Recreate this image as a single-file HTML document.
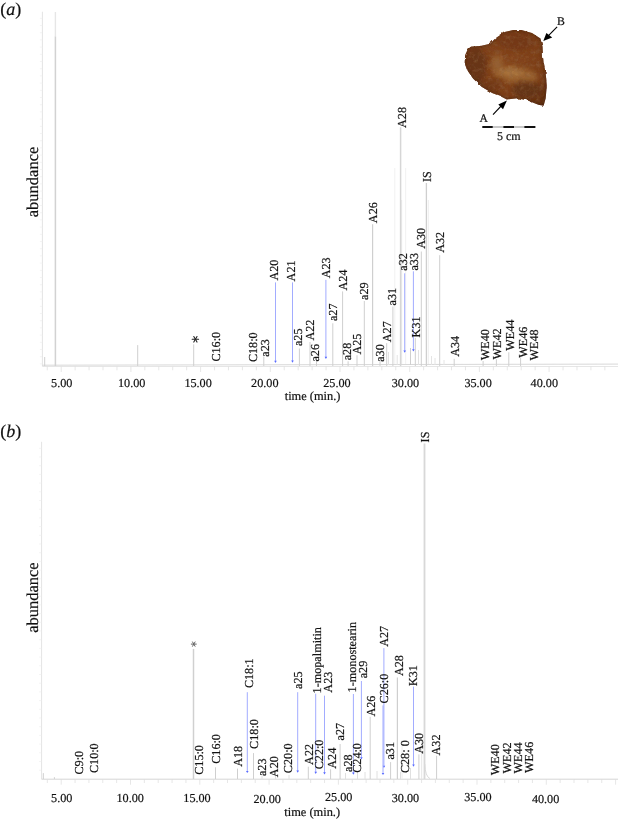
<!DOCTYPE html>
<html><head><meta charset="utf-8"><style>
html,body{margin:0;padding:0;background:#fff;}
svg{display:block;will-change:transform;}
text{font-family:"Liberation Serif",serif;fill:#111;stroke:#111;stroke-width:0.2px;text-rendering:geometricPrecision;}
</style></head><body>
<svg width="618" height="820" viewBox="0 0 618 820">
<line x1="42.4" y1="11.7" x2="42.4" y2="366.5" stroke="#e4e4e4" stroke-width="1"/><line x1="42.4" y1="366.5" x2="618" y2="366.5" stroke="#e6e6e6" stroke-width="1"/><line x1="42.4" y1="365.2" x2="618" y2="364.1" stroke="#d4d4d4" stroke-width="0.9"/><line x1="47.26" y1="366.5" x2="47.26" y2="370.3" stroke="#dcdcdc" stroke-width="0.7"/><line x1="61.20" y1="366.5" x2="61.20" y2="372.0" stroke="#dcdcdc" stroke-width="0.7"/><line x1="75.14" y1="366.5" x2="75.14" y2="370.3" stroke="#dcdcdc" stroke-width="0.7"/><line x1="89.08" y1="366.5" x2="89.08" y2="370.3" stroke="#dcdcdc" stroke-width="0.7"/><line x1="103.02" y1="366.5" x2="103.02" y2="370.3" stroke="#dcdcdc" stroke-width="0.7"/><line x1="116.96" y1="366.5" x2="116.96" y2="370.3" stroke="#dcdcdc" stroke-width="0.7"/><line x1="130.90" y1="366.5" x2="130.90" y2="372.0" stroke="#dcdcdc" stroke-width="0.7"/><line x1="144.84" y1="366.5" x2="144.84" y2="370.3" stroke="#dcdcdc" stroke-width="0.7"/><line x1="158.78" y1="366.5" x2="158.78" y2="370.3" stroke="#dcdcdc" stroke-width="0.7"/><line x1="172.72" y1="366.5" x2="172.72" y2="370.3" stroke="#dcdcdc" stroke-width="0.7"/><line x1="186.66" y1="366.5" x2="186.66" y2="370.3" stroke="#dcdcdc" stroke-width="0.7"/><line x1="200.60" y1="366.5" x2="200.60" y2="372.0" stroke="#dcdcdc" stroke-width="0.7"/><line x1="214.54" y1="366.5" x2="214.54" y2="370.3" stroke="#dcdcdc" stroke-width="0.7"/><line x1="228.48" y1="366.5" x2="228.48" y2="370.3" stroke="#dcdcdc" stroke-width="0.7"/><line x1="242.42" y1="366.5" x2="242.42" y2="370.3" stroke="#dcdcdc" stroke-width="0.7"/><line x1="256.36" y1="366.5" x2="256.36" y2="370.3" stroke="#dcdcdc" stroke-width="0.7"/><line x1="270.30" y1="366.5" x2="270.30" y2="372.0" stroke="#dcdcdc" stroke-width="0.7"/><line x1="284.24" y1="366.5" x2="284.24" y2="370.3" stroke="#dcdcdc" stroke-width="0.7"/><line x1="298.18" y1="366.5" x2="298.18" y2="370.3" stroke="#dcdcdc" stroke-width="0.7"/><line x1="312.12" y1="366.5" x2="312.12" y2="370.3" stroke="#dcdcdc" stroke-width="0.7"/><line x1="326.06" y1="366.5" x2="326.06" y2="370.3" stroke="#dcdcdc" stroke-width="0.7"/><line x1="340.00" y1="366.5" x2="340.00" y2="372.0" stroke="#dcdcdc" stroke-width="0.7"/><line x1="353.94" y1="366.5" x2="353.94" y2="370.3" stroke="#dcdcdc" stroke-width="0.7"/><line x1="367.88" y1="366.5" x2="367.88" y2="370.3" stroke="#dcdcdc" stroke-width="0.7"/><line x1="381.82" y1="366.5" x2="381.82" y2="370.3" stroke="#dcdcdc" stroke-width="0.7"/><line x1="395.76" y1="366.5" x2="395.76" y2="370.3" stroke="#dcdcdc" stroke-width="0.7"/><line x1="409.70" y1="366.5" x2="409.70" y2="372.0" stroke="#dcdcdc" stroke-width="0.7"/><line x1="423.64" y1="366.5" x2="423.64" y2="370.3" stroke="#dcdcdc" stroke-width="0.7"/><line x1="437.58" y1="366.5" x2="437.58" y2="370.3" stroke="#dcdcdc" stroke-width="0.7"/><line x1="451.52" y1="366.5" x2="451.52" y2="370.3" stroke="#dcdcdc" stroke-width="0.7"/><line x1="465.46" y1="366.5" x2="465.46" y2="370.3" stroke="#dcdcdc" stroke-width="0.7"/><line x1="479.40" y1="366.5" x2="479.40" y2="372.0" stroke="#dcdcdc" stroke-width="0.7"/><line x1="493.34" y1="366.5" x2="493.34" y2="370.3" stroke="#dcdcdc" stroke-width="0.7"/><line x1="507.28" y1="366.5" x2="507.28" y2="370.3" stroke="#dcdcdc" stroke-width="0.7"/><line x1="521.22" y1="366.5" x2="521.22" y2="370.3" stroke="#dcdcdc" stroke-width="0.7"/><line x1="535.16" y1="366.5" x2="535.16" y2="370.3" stroke="#dcdcdc" stroke-width="0.7"/><line x1="549.10" y1="366.5" x2="549.10" y2="372.0" stroke="#dcdcdc" stroke-width="0.7"/><line x1="563.04" y1="366.5" x2="563.04" y2="370.3" stroke="#dcdcdc" stroke-width="0.7"/><line x1="576.98" y1="366.5" x2="576.98" y2="370.3" stroke="#dcdcdc" stroke-width="0.7"/><line x1="590.92" y1="366.5" x2="590.92" y2="370.3" stroke="#dcdcdc" stroke-width="0.7"/><line x1="604.86" y1="366.5" x2="604.86" y2="370.3" stroke="#dcdcdc" stroke-width="0.7"/><line x1="39.9" y1="18.3" x2="42.4" y2="18.3" stroke="#ececec" stroke-width="0.6"/><line x1="39.9" y1="25.5" x2="42.4" y2="25.5" stroke="#ececec" stroke-width="0.6"/><line x1="39.9" y1="32.7" x2="42.4" y2="32.7" stroke="#ececec" stroke-width="0.6"/><line x1="39.9" y1="39.900000000000006" x2="42.4" y2="39.900000000000006" stroke="#ececec" stroke-width="0.6"/><line x1="39.9" y1="47.1" x2="42.4" y2="47.1" stroke="#ececec" stroke-width="0.6"/><line x1="39.9" y1="54.3" x2="42.4" y2="54.3" stroke="#ececec" stroke-width="0.6"/><line x1="39.9" y1="61.5" x2="42.4" y2="61.5" stroke="#ececec" stroke-width="0.6"/><line x1="39.9" y1="68.7" x2="42.4" y2="68.7" stroke="#ececec" stroke-width="0.6"/><line x1="39.9" y1="75.9" x2="42.4" y2="75.9" stroke="#ececec" stroke-width="0.6"/><line x1="39.9" y1="83.1" x2="42.4" y2="83.1" stroke="#ececec" stroke-width="0.6"/><line x1="39.9" y1="90.3" x2="42.4" y2="90.3" stroke="#ececec" stroke-width="0.6"/><line x1="39.9" y1="97.5" x2="42.4" y2="97.5" stroke="#ececec" stroke-width="0.6"/><line x1="39.9" y1="104.7" x2="42.4" y2="104.7" stroke="#ececec" stroke-width="0.6"/><line x1="39.9" y1="111.9" x2="42.4" y2="111.9" stroke="#ececec" stroke-width="0.6"/><line x1="39.9" y1="119.1" x2="42.4" y2="119.1" stroke="#ececec" stroke-width="0.6"/><line x1="39.9" y1="126.3" x2="42.4" y2="126.3" stroke="#ececec" stroke-width="0.6"/><line x1="39.9" y1="133.5" x2="42.4" y2="133.5" stroke="#ececec" stroke-width="0.6"/><line x1="39.9" y1="140.70000000000002" x2="42.4" y2="140.70000000000002" stroke="#ececec" stroke-width="0.6"/><line x1="39.9" y1="147.9" x2="42.4" y2="147.9" stroke="#ececec" stroke-width="0.6"/><line x1="39.9" y1="155.10000000000002" x2="42.4" y2="155.10000000000002" stroke="#ececec" stroke-width="0.6"/><line x1="39.9" y1="162.3" x2="42.4" y2="162.3" stroke="#ececec" stroke-width="0.6"/><line x1="39.9" y1="169.50000000000003" x2="42.4" y2="169.50000000000003" stroke="#ececec" stroke-width="0.6"/><line x1="39.9" y1="176.70000000000002" x2="42.4" y2="176.70000000000002" stroke="#ececec" stroke-width="0.6"/><line x1="39.9" y1="183.9" x2="42.4" y2="183.9" stroke="#ececec" stroke-width="0.6"/><line x1="39.9" y1="191.10000000000002" x2="42.4" y2="191.10000000000002" stroke="#ececec" stroke-width="0.6"/><line x1="39.9" y1="198.3" x2="42.4" y2="198.3" stroke="#ececec" stroke-width="0.6"/><line x1="39.9" y1="205.50000000000003" x2="42.4" y2="205.50000000000003" stroke="#ececec" stroke-width="0.6"/><line x1="39.9" y1="212.70000000000002" x2="42.4" y2="212.70000000000002" stroke="#ececec" stroke-width="0.6"/><line x1="39.9" y1="219.9" x2="42.4" y2="219.9" stroke="#ececec" stroke-width="0.6"/><line x1="39.9" y1="227.10000000000002" x2="42.4" y2="227.10000000000002" stroke="#ececec" stroke-width="0.6"/><line x1="39.9" y1="234.3" x2="42.4" y2="234.3" stroke="#ececec" stroke-width="0.6"/><line x1="39.9" y1="241.50000000000003" x2="42.4" y2="241.50000000000003" stroke="#ececec" stroke-width="0.6"/><line x1="39.9" y1="248.70000000000002" x2="42.4" y2="248.70000000000002" stroke="#ececec" stroke-width="0.6"/><line x1="39.9" y1="255.9" x2="42.4" y2="255.9" stroke="#ececec" stroke-width="0.6"/><line x1="39.9" y1="263.1" x2="42.4" y2="263.1" stroke="#ececec" stroke-width="0.6"/><line x1="39.9" y1="270.3" x2="42.4" y2="270.3" stroke="#ececec" stroke-width="0.6"/><line x1="39.9" y1="277.5" x2="42.4" y2="277.5" stroke="#ececec" stroke-width="0.6"/><line x1="39.9" y1="284.70000000000005" x2="42.4" y2="284.70000000000005" stroke="#ececec" stroke-width="0.6"/><line x1="39.9" y1="291.90000000000003" x2="42.4" y2="291.90000000000003" stroke="#ececec" stroke-width="0.6"/><line x1="39.9" y1="299.1" x2="42.4" y2="299.1" stroke="#ececec" stroke-width="0.6"/><line x1="39.9" y1="306.3" x2="42.4" y2="306.3" stroke="#ececec" stroke-width="0.6"/><line x1="39.9" y1="313.5" x2="42.4" y2="313.5" stroke="#ececec" stroke-width="0.6"/><line x1="39.9" y1="320.70000000000005" x2="42.4" y2="320.70000000000005" stroke="#ececec" stroke-width="0.6"/><line x1="39.9" y1="327.90000000000003" x2="42.4" y2="327.90000000000003" stroke="#ececec" stroke-width="0.6"/><line x1="39.9" y1="335.1" x2="42.4" y2="335.1" stroke="#ececec" stroke-width="0.6"/><line x1="39.9" y1="342.3" x2="42.4" y2="342.3" stroke="#ececec" stroke-width="0.6"/><line x1="39.9" y1="349.5" x2="42.4" y2="349.5" stroke="#ececec" stroke-width="0.6"/><line x1="39.9" y1="356.70000000000005" x2="42.4" y2="356.70000000000005" stroke="#ececec" stroke-width="0.6"/><line x1="39.9" y1="363.90000000000003" x2="42.4" y2="363.90000000000003" stroke="#ececec" stroke-width="0.6"/><text x="61.7" y="387" text-anchor="middle" font-size="12.2">5.00</text><text x="131.7" y="387" text-anchor="middle" font-size="12.2">10.00</text><text x="198.1" y="387" text-anchor="middle" font-size="12.2">15.00</text><text x="264.8" y="387" text-anchor="middle" font-size="12.2">20.00</text><text x="336.9" y="387" text-anchor="middle" font-size="12.2">25.00</text><text x="405.4" y="387" text-anchor="middle" font-size="12.2">30.00</text><text x="478.1" y="387" text-anchor="middle" font-size="12.2">35.00</text><text x="544.3" y="387" text-anchor="middle" font-size="12.2">40.00</text><line x1="41.6" y1="441.8" x2="41.6" y2="779.2" stroke="#e4e4e4" stroke-width="1"/><line x1="41.6" y1="779.2" x2="618" y2="779.2" stroke="#d6d6d6" stroke-width="1"/><line x1="47.34" y1="779.2" x2="47.34" y2="783.0" stroke="#dcdcdc" stroke-width="0.7"/><line x1="61.20" y1="779.2" x2="61.20" y2="784.7" stroke="#dcdcdc" stroke-width="0.7"/><line x1="75.06" y1="779.2" x2="75.06" y2="783.0" stroke="#dcdcdc" stroke-width="0.7"/><line x1="88.92" y1="779.2" x2="88.92" y2="783.0" stroke="#dcdcdc" stroke-width="0.7"/><line x1="102.78" y1="779.2" x2="102.78" y2="783.0" stroke="#dcdcdc" stroke-width="0.7"/><line x1="116.64" y1="779.2" x2="116.64" y2="783.0" stroke="#dcdcdc" stroke-width="0.7"/><line x1="130.50" y1="779.2" x2="130.50" y2="784.7" stroke="#dcdcdc" stroke-width="0.7"/><line x1="144.36" y1="779.2" x2="144.36" y2="783.0" stroke="#dcdcdc" stroke-width="0.7"/><line x1="158.22" y1="779.2" x2="158.22" y2="783.0" stroke="#dcdcdc" stroke-width="0.7"/><line x1="172.08" y1="779.2" x2="172.08" y2="783.0" stroke="#dcdcdc" stroke-width="0.7"/><line x1="185.94" y1="779.2" x2="185.94" y2="783.0" stroke="#dcdcdc" stroke-width="0.7"/><line x1="199.80" y1="779.2" x2="199.80" y2="784.7" stroke="#dcdcdc" stroke-width="0.7"/><line x1="213.66" y1="779.2" x2="213.66" y2="783.0" stroke="#dcdcdc" stroke-width="0.7"/><line x1="227.52" y1="779.2" x2="227.52" y2="783.0" stroke="#dcdcdc" stroke-width="0.7"/><line x1="241.38" y1="779.2" x2="241.38" y2="783.0" stroke="#dcdcdc" stroke-width="0.7"/><line x1="255.24" y1="779.2" x2="255.24" y2="783.0" stroke="#dcdcdc" stroke-width="0.7"/><line x1="269.10" y1="779.2" x2="269.10" y2="784.7" stroke="#dcdcdc" stroke-width="0.7"/><line x1="282.96" y1="779.2" x2="282.96" y2="783.0" stroke="#dcdcdc" stroke-width="0.7"/><line x1="296.82" y1="779.2" x2="296.82" y2="783.0" stroke="#dcdcdc" stroke-width="0.7"/><line x1="310.68" y1="779.2" x2="310.68" y2="783.0" stroke="#dcdcdc" stroke-width="0.7"/><line x1="324.54" y1="779.2" x2="324.54" y2="783.0" stroke="#dcdcdc" stroke-width="0.7"/><line x1="338.40" y1="779.2" x2="338.40" y2="784.7" stroke="#dcdcdc" stroke-width="0.7"/><line x1="352.26" y1="779.2" x2="352.26" y2="783.0" stroke="#dcdcdc" stroke-width="0.7"/><line x1="366.12" y1="779.2" x2="366.12" y2="783.0" stroke="#dcdcdc" stroke-width="0.7"/><line x1="379.98" y1="779.2" x2="379.98" y2="783.0" stroke="#dcdcdc" stroke-width="0.7"/><line x1="393.84" y1="779.2" x2="393.84" y2="783.0" stroke="#dcdcdc" stroke-width="0.7"/><line x1="407.70" y1="779.2" x2="407.70" y2="784.7" stroke="#dcdcdc" stroke-width="0.7"/><line x1="421.56" y1="779.2" x2="421.56" y2="783.0" stroke="#dcdcdc" stroke-width="0.7"/><line x1="435.42" y1="779.2" x2="435.42" y2="783.0" stroke="#dcdcdc" stroke-width="0.7"/><line x1="449.28" y1="779.2" x2="449.28" y2="783.0" stroke="#dcdcdc" stroke-width="0.7"/><line x1="463.14" y1="779.2" x2="463.14" y2="783.0" stroke="#dcdcdc" stroke-width="0.7"/><line x1="477.00" y1="779.2" x2="477.00" y2="784.7" stroke="#dcdcdc" stroke-width="0.7"/><line x1="490.86" y1="779.2" x2="490.86" y2="783.0" stroke="#dcdcdc" stroke-width="0.7"/><line x1="504.72" y1="779.2" x2="504.72" y2="783.0" stroke="#dcdcdc" stroke-width="0.7"/><line x1="518.58" y1="779.2" x2="518.58" y2="783.0" stroke="#dcdcdc" stroke-width="0.7"/><line x1="532.44" y1="779.2" x2="532.44" y2="783.0" stroke="#dcdcdc" stroke-width="0.7"/><line x1="546.30" y1="779.2" x2="546.30" y2="784.7" stroke="#dcdcdc" stroke-width="0.7"/><line x1="560.16" y1="779.2" x2="560.16" y2="783.0" stroke="#dcdcdc" stroke-width="0.7"/><line x1="574.02" y1="779.2" x2="574.02" y2="783.0" stroke="#dcdcdc" stroke-width="0.7"/><line x1="587.88" y1="779.2" x2="587.88" y2="783.0" stroke="#dcdcdc" stroke-width="0.7"/><line x1="601.74" y1="779.2" x2="601.74" y2="783.0" stroke="#dcdcdc" stroke-width="0.7"/><line x1="615.60" y1="779.2" x2="615.60" y2="784.7" stroke="#dcdcdc" stroke-width="0.7"/><line x1="39.1" y1="448.3" x2="41.6" y2="448.3" stroke="#ececec" stroke-width="0.6"/><line x1="39.1" y1="457.0" x2="41.6" y2="457.0" stroke="#ececec" stroke-width="0.6"/><line x1="39.1" y1="465.7" x2="41.6" y2="465.7" stroke="#ececec" stroke-width="0.6"/><line x1="39.1" y1="474.40000000000003" x2="41.6" y2="474.40000000000003" stroke="#ececec" stroke-width="0.6"/><line x1="39.1" y1="483.1" x2="41.6" y2="483.1" stroke="#ececec" stroke-width="0.6"/><line x1="39.1" y1="491.8" x2="41.6" y2="491.8" stroke="#ececec" stroke-width="0.6"/><line x1="39.1" y1="500.5" x2="41.6" y2="500.5" stroke="#ececec" stroke-width="0.6"/><line x1="39.1" y1="509.2" x2="41.6" y2="509.2" stroke="#ececec" stroke-width="0.6"/><line x1="39.1" y1="517.9" x2="41.6" y2="517.9" stroke="#ececec" stroke-width="0.6"/><line x1="39.1" y1="526.6" x2="41.6" y2="526.6" stroke="#ececec" stroke-width="0.6"/><line x1="39.1" y1="535.3" x2="41.6" y2="535.3" stroke="#ececec" stroke-width="0.6"/><line x1="39.1" y1="544.0" x2="41.6" y2="544.0" stroke="#ececec" stroke-width="0.6"/><line x1="39.1" y1="552.7" x2="41.6" y2="552.7" stroke="#ececec" stroke-width="0.6"/><line x1="39.1" y1="561.4" x2="41.6" y2="561.4" stroke="#ececec" stroke-width="0.6"/><line x1="39.1" y1="570.1" x2="41.6" y2="570.1" stroke="#ececec" stroke-width="0.6"/><line x1="39.1" y1="578.8" x2="41.6" y2="578.8" stroke="#ececec" stroke-width="0.6"/><line x1="39.1" y1="587.5" x2="41.6" y2="587.5" stroke="#ececec" stroke-width="0.6"/><line x1="39.1" y1="596.2" x2="41.6" y2="596.2" stroke="#ececec" stroke-width="0.6"/><line x1="39.1" y1="604.9" x2="41.6" y2="604.9" stroke="#ececec" stroke-width="0.6"/><line x1="39.1" y1="613.6" x2="41.6" y2="613.6" stroke="#ececec" stroke-width="0.6"/><line x1="39.1" y1="622.3" x2="41.6" y2="622.3" stroke="#ececec" stroke-width="0.6"/><line x1="39.1" y1="631.0" x2="41.6" y2="631.0" stroke="#ececec" stroke-width="0.6"/><line x1="39.1" y1="639.7" x2="41.6" y2="639.7" stroke="#ececec" stroke-width="0.6"/><line x1="39.1" y1="648.4" x2="41.6" y2="648.4" stroke="#ececec" stroke-width="0.6"/><line x1="39.1" y1="657.1" x2="41.6" y2="657.1" stroke="#ececec" stroke-width="0.6"/><line x1="39.1" y1="665.8" x2="41.6" y2="665.8" stroke="#ececec" stroke-width="0.6"/><line x1="39.1" y1="674.5" x2="41.6" y2="674.5" stroke="#ececec" stroke-width="0.6"/><line x1="39.1" y1="683.2" x2="41.6" y2="683.2" stroke="#ececec" stroke-width="0.6"/><line x1="39.1" y1="691.9" x2="41.6" y2="691.9" stroke="#ececec" stroke-width="0.6"/><line x1="39.1" y1="700.6" x2="41.6" y2="700.6" stroke="#ececec" stroke-width="0.6"/><line x1="39.1" y1="709.3" x2="41.6" y2="709.3" stroke="#ececec" stroke-width="0.6"/><line x1="39.1" y1="718.0" x2="41.6" y2="718.0" stroke="#ececec" stroke-width="0.6"/><line x1="39.1" y1="726.7" x2="41.6" y2="726.7" stroke="#ececec" stroke-width="0.6"/><line x1="39.1" y1="735.4" x2="41.6" y2="735.4" stroke="#ececec" stroke-width="0.6"/><line x1="39.1" y1="744.0999999999999" x2="41.6" y2="744.0999999999999" stroke="#ececec" stroke-width="0.6"/><line x1="39.1" y1="752.8" x2="41.6" y2="752.8" stroke="#ececec" stroke-width="0.6"/><line x1="39.1" y1="761.5" x2="41.6" y2="761.5" stroke="#ececec" stroke-width="0.6"/><line x1="39.1" y1="770.2" x2="41.6" y2="770.2" stroke="#ececec" stroke-width="0.6"/><text x="61.7" y="801.7" text-anchor="middle" font-size="12.2">5.00</text><text x="130.2" y="801.7" text-anchor="middle" font-size="12.2">10.00</text><text x="197" y="801.5" text-anchor="middle" font-size="12.2">15.00</text><text x="267.2" y="803.1" text-anchor="middle" font-size="12.2">20.00</text><text x="338.7" y="801.4" text-anchor="middle" font-size="12.2">25.00</text><text x="405.4" y="801.7" text-anchor="middle" font-size="12.2">30.00</text><text x="477.9" y="801.4" text-anchor="middle" font-size="12.2">35.00</text><text x="545.6" y="802.8" text-anchor="middle" font-size="12.2">40.00</text><line x1="55.4" y1="12" x2="55.4" y2="36.6" stroke="#e6e6e6" stroke-width="1.4"/><line x1="55.4" y1="36.6" x2="55.4" y2="366" stroke="#d2d2d2" stroke-width="1.5"/><line x1="394.8" y1="168" x2="394.8" y2="364" stroke="#f1f1f1" stroke-width="1"/><line x1="405.7" y1="168" x2="405.7" y2="364" stroke="#f1f1f1" stroke-width="1"/><line x1="401.7" y1="200" x2="401.7" y2="364" stroke="#ececec" stroke-width="1"/><line x1="428.3" y1="200" x2="428.3" y2="364" stroke="#eeeeee" stroke-width="1"/><line x1="410.5" y1="348" x2="410.5" y2="365" stroke="#cfcfcf" stroke-width="1"/><line x1="388.5" y1="352" x2="388.5" y2="365" stroke="#e2e2e2" stroke-width="1"/><line x1="397.2" y1="355" x2="397.2" y2="365" stroke="#e2e2e2" stroke-width="1"/><line x1="418.5" y1="350" x2="418.5" y2="365" stroke="#e2e2e2" stroke-width="1"/><line x1="431.5" y1="356" x2="431.5" y2="365" stroke="#e4e4e4" stroke-width="1"/><line x1="435" y1="358" x2="435" y2="365" stroke="#e4e4e4" stroke-width="1"/><line x1="444" y1="360" x2="444" y2="365" stroke="#e4e4e4" stroke-width="1"/><line x1="44.7" y1="357" x2="44.7" y2="366" stroke="#cfcfcf" stroke-width="1"/><line x1="137.7" y1="345.1" x2="137.7" y2="366" stroke="#cfcfcf" stroke-width="1"/><line x1="193.7" y1="344.4" x2="193.7" y2="366" stroke="#cfcfcf" stroke-width="1"/><line x1="263.8" y1="356.4" x2="263.8" y2="366" stroke="#cfcfcf" stroke-width="1"/><line x1="299.4" y1="348.5" x2="299.4" y2="366" stroke="#cfcfcf" stroke-width="1"/><line x1="310" y1="342" x2="310" y2="366" stroke="#cfcfcf" stroke-width="1"/><line x1="316.5" y1="358" x2="316.5" y2="366" stroke="#cfcfcf" stroke-width="1"/><line x1="332.8" y1="323.3" x2="332.8" y2="366" stroke="#cfcfcf" stroke-width="1"/><line x1="342.6" y1="291.4" x2="342.6" y2="366" stroke="#cfcfcf" stroke-width="1"/><line x1="348.1" y1="361.3" x2="348.1" y2="366" stroke="#cfcfcf" stroke-width="1"/><line x1="357" y1="355.2" x2="357" y2="366" stroke="#cfcfcf" stroke-width="1"/><line x1="364.3" y1="301" x2="364.3" y2="366" stroke="#cfcfcf" stroke-width="1"/><line x1="372.6" y1="224.3" x2="372.6" y2="366" stroke="#cfcfcf" stroke-width="1.2"/><line x1="380" y1="360" x2="380" y2="366" stroke="#cfcfcf" stroke-width="1"/><line x1="386.7" y1="343.2" x2="386.7" y2="366" stroke="#cfcfcf" stroke-width="1"/><line x1="392.9" y1="306.5" x2="392.9" y2="366" stroke="#cfcfcf" stroke-width="1"/><line x1="400.6" y1="127.3" x2="400.6" y2="366" stroke="#d6d6d6" stroke-width="1.5"/><line x1="415.3" y1="337.9" x2="415.3" y2="366" stroke="#cfcfcf" stroke-width="1"/><line x1="421.3" y1="251.5" x2="421.3" y2="366" stroke="#cfcfcf" stroke-width="1"/><line x1="426.4" y1="183" x2="426.4" y2="366" stroke="#cfcfcf" stroke-width="1.3"/><line x1="439.7" y1="255.2" x2="439.7" y2="366" stroke="#cfcfcf" stroke-width="1"/><line x1="454.2" y1="358.8" x2="454.2" y2="366" stroke="#cfcfcf" stroke-width="1"/><line x1="483.1" y1="361" x2="483.1" y2="366" stroke="#cfcfcf" stroke-width="1"/><line x1="496.4" y1="359.2" x2="496.4" y2="366" stroke="#cfcfcf" stroke-width="1"/><line x1="508.8" y1="352.3" x2="508.8" y2="366" stroke="#cfcfcf" stroke-width="1"/><line x1="520.6" y1="357.3" x2="520.6" y2="366" stroke="#cfcfcf" stroke-width="1"/><line x1="193.5" y1="648.9" x2="193.5" y2="779" stroke="#d0d0d0" stroke-width="1.5"/><line x1="215.5" y1="767.3" x2="215.5" y2="779" stroke="#cfcfcf" stroke-width="1"/><line x1="237.5" y1="768.6" x2="237.5" y2="779" stroke="#cfcfcf" stroke-width="1"/><line x1="253.5" y1="753.1" x2="253.5" y2="779" stroke="#cfcfcf" stroke-width="1"/><line x1="308.3" y1="766.7" x2="308.3" y2="779" stroke="#cfcfcf" stroke-width="1"/><line x1="330.6" y1="769.3" x2="330.6" y2="779" stroke="#cfcfcf" stroke-width="1"/><line x1="340.1" y1="744" x2="340.1" y2="779" stroke="#cfcfcf" stroke-width="1"/><line x1="370.2" y1="716.8" x2="370.2" y2="779" stroke="#cfcfcf" stroke-width="1"/><line x1="390.6" y1="762.1" x2="390.6" y2="779" stroke="#cfcfcf" stroke-width="1"/><line x1="397.4" y1="677.5" x2="397.4" y2="779" stroke="#cfcfcf" stroke-width="1.2"/><line x1="418.9" y1="754.4" x2="418.9" y2="779" stroke="#cfcfcf" stroke-width="1"/><line x1="424.5" y1="443.6" x2="424.5" y2="779" stroke="#d8d8d8" stroke-width="1.8"/><line x1="436.6" y1="755.7" x2="436.6" y2="779" stroke="#cfcfcf" stroke-width="1"/><line x1="43.3" y1="773.1" x2="43.3" y2="779" stroke="#cfcfcf" stroke-width="1"/><line x1="54.4" y1="777.2" x2="54.4" y2="779" stroke="#cfcfcf" stroke-width="1"/><line x1="421.7" y1="740" x2="421.7" y2="779" stroke="#e6e6e6" stroke-width="1"/><line x1="402" y1="740" x2="402" y2="779" stroke="#ececec" stroke-width="1"/><line x1="410.5" y1="768" x2="410.5" y2="779" stroke="#e0e0e0" stroke-width="1"/><line x1="400.5" y1="772" x2="400.5" y2="779" stroke="#e0e0e0" stroke-width="1"/><line x1="262" y1="774" x2="262" y2="779" stroke="#e0e0e0" stroke-width="1"/><line x1="275.5" y1="775" x2="275.5" y2="779" stroke="#e0e0e0" stroke-width="1"/><line x1="289" y1="775" x2="289" y2="779" stroke="#e0e0e0" stroke-width="1"/><line x1="345.5" y1="773" x2="345.5" y2="779" stroke="#e0e0e0" stroke-width="1"/><line x1="357.5" y1="772" x2="357.5" y2="779" stroke="#e0e0e0" stroke-width="1"/><line x1="365" y1="772" x2="365" y2="779" stroke="#e0e0e0" stroke-width="1"/><line x1="377" y1="771" x2="377" y2="779" stroke="#e0e0e0" stroke-width="1"/><path d="M424.8,764 Q425.2,776.5 430,778.6" fill="none" stroke="#dadada" stroke-width="1"/><line x1="275.5" y1="282.4" x2="275.5" y2="361.9" stroke="#a2acff" stroke-width="1"/><path d="M274.2,360.7 L276.8,360.7 L275.5,362.9 Z" fill="#5a6cff"/><line x1="292.5" y1="282.4" x2="292.5" y2="361.8" stroke="#a2acff" stroke-width="1"/><path d="M291.2,360.6 L293.8,360.6 L292.5,362.8 Z" fill="#5a6cff"/><line x1="325.9" y1="279.8" x2="325.9" y2="357.9" stroke="#a2acff" stroke-width="1"/><path d="M324.59999999999997,356.7 L327.2,356.7 L325.9,358.9 Z" fill="#5a6cff"/><line x1="404.7" y1="273.3" x2="404.7" y2="351.8" stroke="#a2acff" stroke-width="1"/><path d="M403.4,350.6 L406.0,350.6 L404.7,352.8 Z" fill="#5a6cff"/><line x1="413.4" y1="271.3" x2="413.4" y2="350.5" stroke="#a2acff" stroke-width="1"/><path d="M412.09999999999997,349.3 L414.7,349.3 L413.4,351.5 Z" fill="#5a6cff"/><line x1="247.3" y1="692.2" x2="247.3" y2="772.1" stroke="#a2acff" stroke-width="1"/><path d="M246.0,770.9 L248.60000000000002,770.9 L247.3,773.1 Z" fill="#5a6cff"/><line x1="297.7" y1="692.2" x2="297.7" y2="771.8" stroke="#a2acff" stroke-width="1"/><path d="M296.4,770.5999999999999 L299.0,770.5999999999999 L297.7,772.8 Z" fill="#5a6cff"/><line x1="315.7" y1="693.7" x2="315.7" y2="773" stroke="#a2acff" stroke-width="1"/><path d="M314.4,771.8 L317.0,771.8 L315.7,774 Z" fill="#5a6cff"/><line x1="324.5" y1="695.7" x2="324.5" y2="773.4" stroke="#a2acff" stroke-width="1"/><path d="M323.2,772.1999999999999 L325.8,772.1999999999999 L324.5,774.4 Z" fill="#5a6cff"/><line x1="353.4" y1="694" x2="353.4" y2="773.8" stroke="#a2acff" stroke-width="1"/><path d="M352.09999999999997,772.5999999999999 L354.7,772.5999999999999 L353.4,774.8 Z" fill="#5a6cff"/><line x1="361.4" y1="681" x2="361.4" y2="758.5" stroke="#a2acff" stroke-width="1"/><path d="M360.09999999999997,757.3 L362.7,757.3 L361.4,759.5 Z" fill="#5a6cff"/><line x1="383.9" y1="648.1" x2="383.9" y2="767" stroke="#a2acff" stroke-width="1"/><path d="M382.59999999999997,765.8 L385.2,765.8 L383.9,768 Z" fill="#5a6cff"/><line x1="383" y1="705.4" x2="383" y2="774.1" stroke="#a2acff" stroke-width="1"/><path d="M381.7,772.9 L384.3,772.9 L383,775.1 Z" fill="#5a6cff"/><line x1="413.5" y1="686.6" x2="413.5" y2="765.7" stroke="#a2acff" stroke-width="1"/><path d="M412.2,764.5 L414.8,764.5 L413.5,766.7 Z" fill="#5a6cff"/><g font-size="12.2"><text transform="translate(219.52,361.62) rotate(-90)">C16:0</text><text transform="translate(257.38,362.12) rotate(-90)">C18:0</text><text transform="translate(269.35,356.70) rotate(-90)">a23</text><text transform="translate(278.00,280.55) rotate(-90)">A20</text><text transform="translate(295.35,281.40) rotate(-90)">A21</text><text transform="translate(301.80,346.05) rotate(-90)">a25</text><text transform="translate(313.80,340.55) rotate(-90)">A22</text><text transform="translate(319.25,361.55) rotate(-90)">a26</text><text transform="translate(329.50,278.30) rotate(-90)">A23</text><text transform="translate(336.60,321.10) rotate(-90)">a27</text><text transform="translate(346.65,290.55) rotate(-90)">A24</text><text transform="translate(351.25,360.35) rotate(-90)">a28</text><text transform="translate(361.35,354.60) rotate(-90)">A25</text><text transform="translate(368.40,299.90) rotate(-90)">a29</text><text transform="translate(376.55,223.15) rotate(-90)">A26</text><text transform="translate(384.05,361.80) rotate(-90)">a30</text><text transform="translate(390.55,342.25) rotate(-90)">A27</text><text transform="translate(396.15,305.40) rotate(-90)">a31</text><text transform="translate(405.65,128.00) rotate(-90)">A28</text><text transform="translate(407.00,270.75) rotate(-90)">a32</text><text transform="translate(417.80,270.55) rotate(-90)">a33</text><text transform="translate(419.50,337.40) rotate(-90)">K31</text><text transform="translate(425.15,248.80) rotate(-90)">A30</text><text transform="translate(430.75,182.07) rotate(-90)">IS</text><text transform="translate(444.15,252.85) rotate(-90)">A32</text><text transform="translate(458.95,356.80) rotate(-90)">A34</text><text transform="translate(488.70,360.18) rotate(-90)">WE40</text><text transform="translate(501.40,359.57) rotate(-90)">WE42</text><text transform="translate(513.77,350.77) rotate(-90)">WE44</text><text transform="translate(526.70,357.73) rotate(-90)">WE46</text><text transform="translate(537.55,360.48) rotate(-90)">WE48</text><text transform="translate(82.72,774.58) rotate(-90)">C9:0</text><text transform="translate(98.17,773.08) rotate(-90)">C10:0</text><text transform="translate(203.27,774.83) rotate(-90)">C15:0</text><text transform="translate(220.42,763.83) rotate(-90)">C16:0</text><text transform="translate(242.25,766.85) rotate(-90)">A18</text><text transform="translate(252.62,688.12) rotate(-90)">C18:1</text><text transform="translate(257.78,748.92) rotate(-90)">C18:0</text><text transform="translate(265.55,776.10) rotate(-90)">a23</text><text transform="translate(277.70,777.15) rotate(-90)">A20</text><text transform="translate(292.43,773.17) rotate(-90)">C20:0</text><text transform="translate(302.45,688.95) rotate(-90)">a25</text><text transform="translate(312.80,764.90) rotate(-90)">A22</text><text transform="translate(321.07,693.45) rotate(-90)">1-mopalmitin</text><text transform="translate(323.23,769.33) rotate(-90)">C22:0</text><text transform="translate(332.05,692.65) rotate(-90)">A23</text><text transform="translate(335.70,768.75) rotate(-90)">A24</text><text transform="translate(343.65,740.50) rotate(-90)">a27</text><text transform="translate(351.50,771.90) rotate(-90)">a28</text><text transform="translate(356.25,692.43) rotate(-90)">1-monostearin</text><text transform="translate(361.23,772.83) rotate(-90)">C24:0</text><text transform="translate(367.20,678.30) rotate(-90)">a29</text><text transform="translate(374.80,716.55) rotate(-90)">A26</text><text transform="translate(387.75,646.85) rotate(-90)">A27</text><text transform="translate(388.08,703.48) rotate(-90)">C26:0</text><text transform="translate(394.05,759.60) rotate(-90)">a31</text><text transform="translate(403.20,676.05) rotate(-90)">A28</text><text transform="translate(409.12,773.10) rotate(-90)">C28: 0</text><text transform="translate(417.40,686.10) rotate(-90)">K31</text><text transform="translate(422.55,753.85) rotate(-90)">A30</text><text transform="translate(428.70,442.43) rotate(-90)">IS</text><text transform="translate(440.20,755.50) rotate(-90)">A32</text><text transform="translate(499.25,775.33) rotate(-90)">WE40</text><text transform="translate(510.55,773.52) rotate(-90)">WE42</text><text transform="translate(522.27,773.52) rotate(-90)">WE44</text><text transform="translate(533.40,772.88) rotate(-90)">WE46</text></g><line x1="192.20" y1="339.30" x2="198.60" y2="339.30" stroke="#222" stroke-width="1.1" stroke-linecap="round"/><line x1="193.80" y1="336.53" x2="197.00" y2="342.07" stroke="#222" stroke-width="1.1" stroke-linecap="round"/><line x1="197.00" y1="336.53" x2="193.80" y2="342.07" stroke="#222" stroke-width="1.1" stroke-linecap="round"/><line x1="191.30" y1="644.10" x2="196.30" y2="644.10" stroke="#666" stroke-width="1.0" stroke-linecap="round"/><line x1="192.55" y1="641.93" x2="195.05" y2="646.27" stroke="#666" stroke-width="1.0" stroke-linecap="round"/><line x1="195.05" y1="641.93" x2="192.55" y2="646.27" stroke="#666" stroke-width="1.0" stroke-linecap="round"/><text transform="translate(37.8,182) rotate(-90)" text-anchor="middle" font-size="16.5">abundance</text><text transform="translate(37.8,597.6) rotate(-90)" text-anchor="middle" font-size="16.5">abundance</text><text x="312.6" y="399.8" text-anchor="middle" font-size="12.4">time (min.)</text><text x="312.2" y="816.2" text-anchor="middle" font-size="12.4">time (min.)</text><text x="0.3" y="14.9" font-size="18">(<tspan font-style="italic">a</tspan>)</text><text x="0.3" y="436.5" font-size="18">(<tspan font-style="italic">b</tspan>)</text><defs>
<radialGradient id="rg" cx="0.5" cy="0.45" r="0.65"><stop offset="0" stop-color="#86461c"/><stop offset="0.7" stop-color="#7a3d18"/><stop offset="1" stop-color="#5a2a10"/></radialGradient>
<filter id="bl3" x="-50%" y="-50%" width="200%" height="200%"><feGaussianBlur stdDeviation="2.6"/></filter>
<filter id="bl2" x="-50%" y="-50%" width="200%" height="200%"><feGaussianBlur stdDeviation="1.4"/></filter>
<filter id="rough" x="-10%" y="-10%" width="120%" height="120%"><feTurbulence type="fractalNoise" baseFrequency="0.13" numOctaves="2" seed="7" result="t"/><feDisplacementMap in="SourceGraphic" in2="t" scale="3" xChannelSelector="R" yChannelSelector="G"/></filter>
<filter id="tex" x="0" y="0" width="100%" height="100%"><feTurbulence type="fractalNoise" baseFrequency="0.22" numOctaves="3" seed="3" result="n"/><feColorMatrix in="n" type="matrix" values="0 0 0 0 0.25  0 0 0 0 0.12  0 0 0 0 0.05  0 0 0 1.6 -0.75" result="c"/><feComposite in="c" in2="SourceGraphic" operator="in"/></filter>
<filter id="tex2" x="0" y="0" width="100%" height="100%"><feTurbulence type="fractalNoise" baseFrequency="0.25" numOctaves="3" seed="11" result="n"/><feColorMatrix in="n" type="matrix" values="0 0 0 0 0.8  0 0 0 0 0.55  0 0 0 0 0.3  0 0 0 1.6 -0.85" result="c"/><feComposite in="c" in2="SourceGraphic" operator="in"/></filter>
<clipPath id="rc"><path id="rp" d="M464.7,62.6 L465.1,55.2 L467.9,48.9 L471.0,46.8 L481.6,45.8 L490.0,43.7 L495.2,38.4 L504.7,32.1 L513.1,30.0 L521.5,30.0 L532.0,33.1 L540.5,38.4 L542.6,46.8 L543.0,55.2 L543.6,62.6 L545.7,73.1 L546.8,85.7 L545.7,98.3 L543.6,105.7 L538.3,104.7 L527.8,100.5 L517.3,98.3 L506.8,99.4 L500.5,96.2 L492.1,93.1 L481.6,86.8 L473.1,78.4 L467.9,71.0 Z"/></clipPath>
</defs>
<g filter="url(#rough)"><g clip-path="url(#rc)">
<rect x="460" y="25" width="90" height="85" fill="url(#rg)"/>
<ellipse cx="476" cy="66" rx="11" ry="18" fill="#643014" filter="url(#bl3)" opacity="0.8"/>
<ellipse cx="516" cy="42" rx="18" ry="9" fill="#703614" filter="url(#bl3)" opacity="0.7"/>
<ellipse cx="516" cy="75" rx="22" ry="8" fill="#a06a36" filter="url(#bl3)" transform="rotate(8 516 75)" opacity="0.8"/><ellipse cx="512" cy="72" rx="12" ry="4" fill="#b38046" filter="url(#bl2)" transform="rotate(5 512 72)" opacity="0.55"/>
<ellipse cx="497" cy="64" rx="6" ry="9" fill="#9a6534" filter="url(#bl3)" opacity="0.85"/>
<ellipse cx="527" cy="90" rx="15" ry="8" fill="#5e3016" filter="url(#bl3)" opacity="0.8"/>
<ellipse cx="490" cy="86" rx="12" ry="6" fill="#6a3418" filter="url(#bl3)" opacity="0.6"/>
<rect x="460" y="25" width="90" height="85" fill="#000" filter="url(#tex)" opacity="0.7"/>
<rect x="460" y="25" width="90" height="85" fill="#000" filter="url(#tex2)" opacity="0.2"/>
<use href="#rp" fill="none" stroke="#4e2810" stroke-width="2.4" filter="url(#bl2)" opacity="0.7"/>
</g></g>
<line x1="557.1" y1="26.8" x2="546" y2="38.2" stroke="#000" stroke-width="1.1"/>
<path d="M543.3,41 L546.4,32.9 L552.2,37.6 Z" fill="#000"/>
<text x="557" y="24.9" font-size="11.8">B</text>
<line x1="493" y1="114.6" x2="503.5" y2="103.5" stroke="#000" stroke-width="1.1"/>
<path d="M506.9,100.4 L498.3,104.6 L503,109.2 Z" fill="#000"/>
<text x="479.4" y="121.7" font-size="11.6">A</text>
<rect x="482.3" y="126" width="53.1" height="2" fill="#111"/>
<rect x="492.7" y="126" width="10.7" height="2" fill="#c8c8c8"/>
<rect x="514" y="126" width="10.4" height="2" fill="#c8c8c8"/>
<text x="497" y="139.8" font-size="12">5 cm</text>

</svg></body></html>
